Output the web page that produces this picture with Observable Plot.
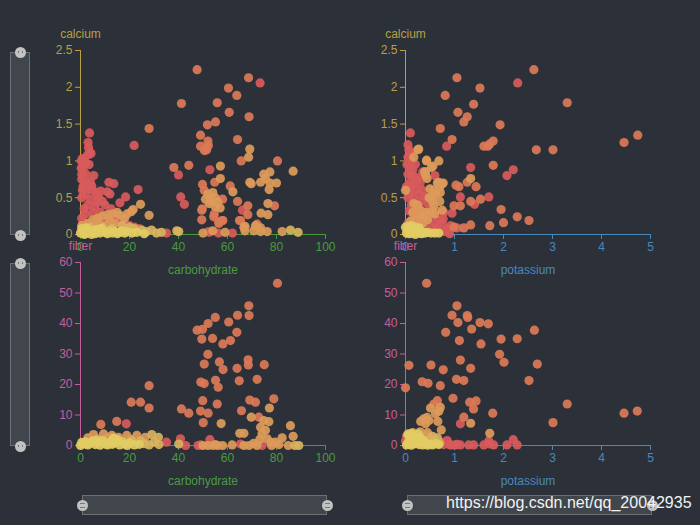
<!DOCTYPE html>
<html><head><meta charset="utf-8">
<script src="https://cdn.jsdelivr.net/npm/d3@7"></script>
<script src="https://cdn.jsdelivr.net/npm/@observablehq/plot@0.6"></script>
<style>
html,body{margin:0;padding:0;background:#2c3139;}
#chart{position:relative;width:700px;height:525px;background:#2c3139;overflow:hidden;font-family:"Liberation Sans",Arial,sans-serif;}
#chart svg{position:absolute;left:0;top:0;}
.slider{position:absolute;background:rgba(255,255,255,0.1);border:1px solid #6b6f76;box-sizing:border-box;}
.handle{position:absolute;width:11px;height:11px;border-radius:50%;background:#c2c2c2;box-sizing:border-box;}
.handle::after{content:"";position:absolute;left:3px;top:4px;width:5px;height:2px;border-left:1px solid #777;border-right:1px solid #777;box-sizing:border-box;}
.handle.h::after{left:3px;top:3px;width:5px;height:5px;border:none;border-top:1px solid #777;border-bottom:1px solid #777;}
#wm{position:absolute;left:446px;top:494px;color:#f2f2f2;font-size:16px;white-space:nowrap;}
</style></head>
<body>
<div id="chart">
  <div class="slider" style="left:10px;top:52px;width:20px;height:183px"></div>
  <div class="handle" style="left:14.5px;top:46.5px"></div>
  <div class="handle" style="left:14.5px;top:229.5px"></div>
  <div class="slider" style="left:10px;top:263px;width:20px;height:183px"></div>
  <div class="handle" style="left:14.5px;top:257.5px"></div>
  <div class="handle" style="left:14.5px;top:440.5px"></div>
  <div class="slider" style="left:82px;top:495px;width:245px;height:20px"></div>
  <div class="handle h" style="left:76.5px;top:499.5px"></div>
  <div class="handle h" style="left:321.5px;top:499.5px"></div>
  <div class="slider" style="left:407px;top:495px;width:245px;height:20px"></div>
  <div class="handle h" style="left:401.5px;top:499.5px"></div>
  <div class="handle h" style="left:646.5px;top:499.5px"></div>
</div>
<script>
// group levels: 0 red, 1 coral, 2 orange, 3 tan, 4 yellow
const levels = [0, 1, 2, 3, 4];
const levelColors = ["#d95a5b", "#dc7a58", "#dd9a5a", "#d9b35e", "#e2cc63"];

const carbTicks = [0, 20, 40, 60, 80, 100];
const potassiumTicks = [0, 1, 2, 3, 4, 5];
const calciumTicks = [0, 0.5, 1, 1.5, 2, 2.5];
const fiberTicks = [0, 10, 20, 30, 40, 50, 60];

// [carbohydrate, calcium, level]
const calciumByCarb = [
[47.6,2.24,1],[68.6,2.13,1],[73.3,2.06,0],[60.4,1.99,1],[63.8,1.89,1],[55.8,1.79,1],[41.2,1.78,1],[60.7,1.66,1],[68.8,1.60,1],[28.0,1.44,1],[55.1,1.53,1],[51.8,1.49,1],[49.0,1.35,1],[64.1,1.29,1],[52.0,1.27,1],[49.0,1.20,1],[50.6,1.14,1],[52.2,1.21,1],[51.5,1.15,1],[69.1,1.16,2],[68.6,1.05,2],[65.6,1.00,1],[80.4,1.00,1],[21.9,1.21,0],[38.1,0.91,1],[44.2,0.94,1],[57.1,0.93,2],[52.8,0.88,0],[86.8,0.86,2],[40.0,0.81,0],[57.1,0.76,2],[74.8,0.82,2],[77.3,0.85,2],[75.5,0.76,2],[54.8,0.71,1],[49.8,0.68,1],[69.1,0.71,2],[69.7,0.69,2],[73.5,0.71,2],[77.3,0.70,2],[80.0,0.70,2],[61.1,0.66,1],[77.0,0.61,2],[62.2,0.58,2],[40.9,0.51,0],[42.4,0.41,0],
[52,0.55,2],[54,0.57,2],[53,0.5,2],[55,0.5,2],[51,0.48,2],[53.5,0.45,2],[56,0.44,2],[52.5,0.42,2],[55,0.38,2],[57,0.36,2],[50.5,0.6,1],[58,0.48,1],
[64.1,0.45,1],[68.3,0.39,1],[76.5,0.42,2],[79.2,0.39,1],[49.7,0.35,1],[54.6,0.28,1],[56.4,0.17,1],[58.1,0.19,1],[49.5,0.20,1],[66.1,0.33,0],[68.3,0.27,1],[64.9,0.19,1],[73.7,0.29,2],[76.5,0.27,2],[72.1,0.14,1],[67.2,0.11,2],[67.1,0.05,2],[52.5,0.03,0],[56.3,0.02,0],[52.2,0.04,0],[70.7,0.05,2],[73.5,0.04,2],[76.2,0.04,2],[82.3,0.04,2],[85.7,0.06,3],[88.8,0.03,3],[40.1,0.04,3],[35.1,0.02,0],[39.3,0.05,3],
[65.3,0.19,1],[66.7,0.10,2],[71.4,0.12,2],[73.5,0.09,2],[49.5,0.33,1],[54.4,0.24,1],[57.8,0.19,1],[56.5,0.15,1],[62,0.02,0],[59,0.03,2],[54,0.05,2],[50,0.02,2],
[28,0.26,2],[24.5,0.41,2],[23.5,0.61,0],[18.4,0.51,0],[16.1,0.43,0],[20.7,0.31,2],[21.5,0.34,2],
[3.7,1.38,0],[3.1,1.25,0],[3.3,1.18,0],[3.7,1.12,0],[2.9,1.08,0],[4.3,1.1,0],[0.7,1.03,0],[1.2,0.91,0],[2.0,0.98,0],[3.5,0.95,0],[5.4,0.80,0],[0.5,0.75,0],[1.5,0.72,0],[2.5,0.7,0],[4,0.72,0],[1,0.65,0],[3,0.62,0],[5,0.6,0],[6.5,0.55,0],[2,0.55,0],[0.5,0.5,0],[4,0.48,0],[7,0.45,0],[8.2,0.59,0],[10.9,0.58,0],[12,0.55,0],[11.6,0.71,0],[13.6,0.69,0],[9,0.45,0],[3,0.4,0],[1.5,0.35,0],[6,0.38,0],[10,0.4,0],[12.5,0.35,0],[5,0.3,0],[8,0.3,0],[2,0.28,0],[0.5,0.22,0],[14,0.25,0],[11,0.22,0],[6.5,0.2,0],[15,0.18,0],[18,0.15,0],[20,0.12,0],[22,0.1,0],[24,0.08,0],[17,0.2,0],[13,0.12,0],[0.3,0.9,0],[0.8,0.6,0],[0.3,1.0,0],[0.5,0.82,0],[2.2,0.82,0],[4.6,0.66,0],[7.5,0.5,0],
[3,0.15,2],[5,0.2,2],[7,0.22,2],[9,0.25,2],[11,0.27,2],[13,0.28,2],[15,0.3,2],[16,0.26,2],[12,0.18,2],[8,0.14,2],[10,0.12,2],[14,0.15,2],[18,0.22,2],[6,0.1,2],[4,0.1,3],[19,0.28,2],[17,0.12,3],[20,0.1,3],[22,0.08,3],[25,0.06,3],[1,0.17,0],[0.5,0.12,2],[2,0.08,3],[13,0.08,3],[9,0.1,3],
[0,0.02,4],[1,0.05,4],[2,0.01,4],[3,0.06,4],[4,0.03,4],[5,0.05,4],[6,0.01,4],[7,0.04,4],[8,0.02,4],[9,0.06,4],[10,0.03,4],[11,0.01,4],[12,0.05,4],[13,0.02,4],[14,0.04,4],[15,0.01,4],[16,0.03,4],[17,0.05,4],[18,0.02,4],[19,0.04,4],[21,0.02,4],[23,0.03,4],[0.5,0.08,4],[2.5,0.09,4],[4.5,0.0,4],[6.5,0.07,4],[8.5,0.08,4],[1.5,0.0,4],[27,0.04,3],[29,0.06,3],[31,0.02,3],[33,0.03,3],[26,0.01,4]
];

// [potassium, calcium, level]
const calciumByPotassium = [
[2.62,2.24,1],[1.05,2.13,1],[2.29,2.06,0],[1.52,1.99,1],[0.81,1.89,1],[3.30,1.79,1],[1.39,1.77,1],[1.07,1.66,1],[1.26,1.60,1],[1.19,1.53,1],[1.93,1.49,1],[0.71,1.44,1],[4.74,1.35,1],[4.46,1.25,1],[0.95,1.29,1],[0.84,1.20,0],[1.60,1.20,1],[1.68,1.20,1],[1.79,1.27,1],[1.72,1.23,1],[2.67,1.15,1],[3.01,1.15,1],[0.10,1.38,0],[0.27,1.16,2],[0.17,1.05,2],[0.43,1.01,2],[0.68,1.00,2],[1.33,0.91,0],[1.79,0.94,1],[2.20,0.88,0],[2.07,0.80,0],[0.41,0.85,2],[0.41,0.80,2],[0.44,0.76,2],[0.60,0.80,0],[0.53,0.91,2],[0.65,0.70,2],[0.77,0.70,2],[0.70,0.65,2],[1.03,0.67,1],[1.09,0.65,1],[1.26,0.71,1],[1.33,0.76,2],[1.44,0.65,1],[1.12,0.51,0],[1.70,0.51,0],[1.53,0.48,1],[1.33,0.45,1],[1.41,0.41,0],[0.99,0.39,1],[1.12,0.39,1],[0.95,0.29,0],[1.95,0.34,1],[2.28,0.24,1],[2.52,0.19,1],[2.0,0.16,1],[1.72,0.12,1],[1.33,0.13,1],[1.19,0.09,1],[1.05,0.09,0],[0.80,0.04,0],[0.90,0.01,0],[0.92,0.12,0],[0.99,0.10,1],[0.77,0.21,0],[0.78,0.30,0],
[0.05,1.22,0],[0.07,1.15,0],[0.1,1.1,0],[0.05,1.05,0],[0.12,1.0,0],[0.03,0.95,0],[0.08,0.9,0],[0.15,0.88,0],[0.05,0.82,0],[0.12,0.8,0],[0.2,0.78,0],[0.25,0.75,0],[0.3,0.7,0],[0.08,0.7,0],[0.15,0.68,0],[0.02,0.65,0],[0.22,0.62,0],[0.35,0.6,0],[0.1,0.58,0],[0.28,0.55,0],[0.4,0.52,0],[0.05,0.5,0],[0.18,0.48,0],[0.32,0.45,0],[0.45,0.42,0],[0.12,0.4,0],[0.25,0.38,0],[0.5,0.35,0],[0.08,0.32,0],[0.2,0.3,0],[0.38,0.28,0],[0.55,0.25,0],[0.62,0.32,0],[0.15,0.22,0],[0.3,0.2,0],[0.45,0.18,0],[0.6,0.15,0],[0.7,0.2,0],[0.05,0.15,0],[0.25,0.12,0],[0.4,0.1,0],[0.55,0.08,0],[0.65,0.1,0],[0.75,0.15,0],[0.85,0.08,0],[0.1,0.55,0],[0.35,0.85,0],[0.2,0.95,0],
[0.25,1.15,2],[0.43,1.0,2],[0.56,0.93,2],[0.39,0.85,2],[0.68,0.71,2],[0.75,0.69,2],[0.71,0.57,2],[0.58,0.6,2],[0.54,0.51,2],[0.58,0.39,2],[0.75,0.33,2],[0.31,0.33,2],[0.37,0.26,2],[0.17,0.42,2],[0.0,0.6,2],
[0.3,0.25,2],[0.4,0.3,2],[0.5,0.3,2],[0.2,0.2,2],[0.45,0.2,2],[0.6,0.28,2],[0.35,0.15,2],[0.55,0.45,2],[0.62,0.55,2],[0.5,0.62,2],[0.7,0.45,2],[0.25,0.4,2],[0.15,0.3,2],[0.1,0.18,2],[0.55,0.52,2],[0.48,0.5,2],
[0.02,0.02,4],[0.05,0.06,4],[0.08,0.01,4],[0.1,0.04,4],[0.12,0.08,4],[0.15,0.02,4],[0.18,0.05,4],[0.2,0.0,4],[0.22,0.03,4],[0.25,0.06,4],[0.28,0.02,4],[0.3,0.04,4],[0.33,0.01,4],[0.36,0.03,4],[0.4,0.02,4],[0.45,0.03,4],[0.52,0.02,4],[0.6,0.02,4],[0.68,0.02,4],[0.0,0.1,4],[0.05,0.11,4],[0.12,0.12,4],[0.2,0.1,4],[0.28,0.09,4]
];

// [carbohydrate, fiber, level]
const fiberByCarb = [
[80.4,53.2,1],[68.7,45.8,1],[68.8,42.6,1],[64.1,42.7,1],[60.5,40.5,1],[55.0,42.0,1],[52.1,40.0,1],[47.6,37.8,1],[49.8,38.1,1],[63.8,37.1,1],[49.5,34.9,1],[53.9,35.1,1],[58.1,33.3,1],[61.2,34.4,1],[52.0,29.9,1],[68.4,28.1,1],[68.5,26.4,1],[50.5,26.7,1],[56.7,27.4,1],[75.0,26.5,1],[63.9,25.3,1],[58.2,24.9,1],[72.1,21.7,1],[64.8,21.2,1],[55.1,21.4,1],[56.2,19.1,1],[49.1,20.8,1],[50.5,20.3,1],[28.0,19.6,1],[20.7,14.2,1],[24.5,14.2,1],[28.0,12.3,1],[49.9,14.7,1],[69.1,14.9,1],[71.4,14.2,1],[78.9,15.3,1],[55.8,13.6,1],[77.1,12.3,2],[41.2,12.0,1],[44.2,10.6,1],[65.7,11.4,1],[49.0,11.3,1],[52.1,10.6,1],[69.7,9.3,2],[72.8,9.3,1],[50.1,7.5,1],[57.4,7.2,2],[85.7,6.5,2],[86.8,3.0,2],[8.3,6.9,1],[14.8,7.9,1],[18.7,7.1,0],
[74.8,8.2,2],[76.9,7.8,2],[73.5,6.0,2],[74.1,3.8,2],[76.2,2.2,2],[77.6,1.1,2],[79.6,1.1,2],[82.3,2.5,2],[66.7,4.0,2],[65.0,4.0,2],[75.5,5.0,2],[73.2,2.0,2],
[65.3,0.5,0],[74.1,0,0],[61.9,0.2,2],[66.7,0,2],[68.8,0,2],[70.7,0.7,2],[84.8,0,2],[87.5,0,3],[89.1,0,3],[72,0,2],[78,0,2],[81,0.3,2],
[35.1,1.1,0],[40.8,2.2,0],[40.1,0.5,3],[42.9,0,0],[48,0,0],[50,0,2],[52,0,2],[54,0,2],[56,0,2],[58,0,2],[49,0.2,0],[55,0.3,2],[52.8,1.9,0],
[5.3,3.6,2],[9.4,3.8,2],[12.8,3.3,2],[15.5,2.7,2],[18.9,3.3,2],[23,3.3,2],[26.4,2.7,2],[29.1,3.6,3],[31.8,2.7,3],[3,2.5,2],[7,2.2,2],[11,2.5,2],[20.5,2.0,2],[24.5,1.5,3],[14,1.8,2],
[0,0,4],[1,0.5,4],[2,1.2,4],[3,0.2,4],[4,0.8,4],[5,1.5,4],[6,0.3,4],[7,1.0,4],[8,0.1,4],[9,1.6,4],[10,0.6,4],[11,0.2,4],[12,1.1,4],[13,0.4,4],[14,0.9,4],[15,2.0,4],[16,0.2,4],[17,1.2,4],[18,0.5,4],[19,0,4],[20,0.8,4],[22,0.2,4],[24,0.4,4],[26,0.6,3],[28,0.2,3],[30,1.1,3],[32,0.3,3],[0.5,1.0,4],[2.5,0.5,4],[6.5,1.8,4],[13.5,2.4,4],[21,1.5,3]
];

// [potassium, fiber, level]
const fiberByPotassium = [
[0.43,53.2,1],[1.05,45.8,1],[0.95,42.7,1],[1.26,42.6,1],[1.27,42.0,1],[1.07,40.3,1],[1.52,40.3,1],[1.69,39.9,1],[0.82,37.1,1],[1.35,38.2,1],[2.63,37.8,1],[1.10,34.4,1],[1.95,34.9,1],[2.28,35.0,1],[1.54,33.3,1],[1.92,29.9,1],[2.01,27.3,1],[2.69,26.7,1],[1.12,28.0,1],[0.07,26.3,1],[0.52,26.4,1],[1.33,25.3,1],[0.77,24.8,1],[2.52,21.3,1],[1.04,21.7,1],[1.19,21.3,1],[0.34,20.9,1],[0.46,20.4,1],[0.71,19.6,1],[0.0,18.9,1],[0.97,15.5,1],[1.31,14.2,1],[1.44,14.6,1],[1.39,12.0,1],[3.30,13.6,1],[1.78,10.6,1],[4.46,10.6,1],[4.73,11.3,1],[3.01,7.5,1],[1.19,9.3,1],
[1.12,7.1,0],[1.33,7.3,2],[1.72,4.0,2],
[0.65,14.7,1],[0.58,13.6,1],[0.71,12.5,2],[0.68,11.2,2],[0.51,12.3,2],[0.61,10.4,2],[0.37,8.7,2],[0.48,8.2,2],[0.31,7.9,2],[0.41,7.1,2],[0.66,7.9,2],[0.73,5.1,2],[0.44,9.2,2],
[2.20,1.9,0],[2.07,0.2,0],[2.28,0.2,0],[0.92,0.2,0],[1.12,0.2,0],[1.29,0.2,0],[1.39,0.2,0],[1.6,0.2,0],[1.72,0.5,0],[1.8,0.2,0],[0.85,1.6,0],[0.9,0.3,0],[0.75,1.0,0],[0.78,0.3,0],[1.0,0.1,0],[1.05,0.4,0],[1.7,1.5,0],
[0.05,3.8,2],[0.15,4.2,2],[0.22,3.2,2],[0.3,4.5,2],[0.1,2.8,2],[0.4,3.5,2],[0.5,2.0,2],[0.6,1.5,2],[0.7,0.8,2],[0.45,4.2,2],[0.02,3,0],[0.0,1.5,0],[0.55,3.0,3],[0.65,2.5,3],
[0.02,0.2,4],[0.05,1,4],[0.08,0.5,4],[0.1,2,4],[0.12,0.1,4],[0.15,1.5,4],[0.18,3,4],[0.2,0.6,4],[0.22,2.2,4],[0.25,1.2,4],[0.28,0.3,4],[0.3,2.5,4],[0.32,1,4],[0.35,0.2,4],[0.38,1.6,4],[0.4,0.8,4],[0.45,0.1,4],[0.5,0.5,4],[0.55,0.2,4],[0.62,0.6,4],[0.68,0.3,4],[0.05,3.5,4],[0.12,4,4],[0.26,3.8,4]
];

const fmt = d => String(d);
const font = "'Liberation Sans', Arial, sans-serif";

function panel(points, o) {
  const data = points.map(([a, b, g]) => ({a, b, g})).sort((p, q) => p.g - q.g);
  return Plot.plot({
    width: 700, height: 525,
    marginLeft: o.ml, marginRight: o.mr, marginTop: o.mt, marginBottom: o.mb,
    style: {background: "transparent", fontFamily: font, fontSize: "12px", overflow: "visible"},
    x: {domain: o.xd, label: null},
    y: {domain: o.yd, label: null},
    color: {type: "ordinal", domain: levels, range: levelColors},
    marks: [
      Plot.ruleY([0], {stroke: o.xc, strokeWidth: 1}),
      Plot.ruleX([0], {stroke: o.yc, strokeWidth: 1}),
      Plot.axisX({ticks: o.xt, tickSize: 5, tickPadding: 3, tickFormat: fmt, stroke: o.xc, fill: o.xc, label: null, fontSize: 12}),
      Plot.axisY({ticks: o.yt, tickSize: 5, tickPadding: 3, tickFormat: fmt, stroke: o.yc, fill: o.yc, label: null, fontSize: 12}),
      Plot.text([o.xn], {text: d => d, frameAnchor: "bottom", lineAnchor: "middle", dy: 36, fill: o.xc, fontSize: 12}),
      Plot.text([o.yn], {text: d => d, frameAnchor: "top-left", lineAnchor: "middle", dy: -16, textAnchor: "middle", fill: o.yc, fontSize: 12}),
      Plot.dot(data, {x: "a", y: "b", fill: "g", r: 4.6, fillOpacity: 0.92})
    ]
  });
}

const carbColor = "#4a9a42", potColor = "#4a88bb", calColor = "#b9a043", fibColor = "#c55e9c";
const chartEl = document.getElementById("chart");
const rowTop = {mt: 50, mb: 291}, rowBottom = {mt: 262, mb: 80};
const colLeft = {ml: 80, mr: 375}, colRight = {ml: 405, mr: 50};

chartEl.appendChild(panel(calciumByCarb, {...rowTop, ...colLeft, xd: [0, 100], yd: [0, 2.5], xt: carbTicks, yt: calciumTicks, xc: carbColor, yc: calColor, xn: "carbohydrate", yn: "calcium"}));
chartEl.appendChild(panel(calciumByPotassium, {...rowTop, ...colRight, xd: [0, 5], yd: [0, 2.5], xt: potassiumTicks, yt: calciumTicks, xc: potColor, yc: calColor, xn: "potassium", yn: "calcium"}));
chartEl.appendChild(panel(fiberByCarb, {...rowBottom, ...colLeft, xd: [0, 100], yd: [0, 60], xt: carbTicks, yt: fiberTicks, xc: carbColor, yc: fibColor, xn: "carbohydrate", yn: "fiber"}));
chartEl.appendChild(panel(fiberByPotassium, {...rowBottom, ...colRight, xd: [0, 5], yd: [0, 60], xt: potassiumTicks, yt: fiberTicks, xc: potColor, yc: fibColor, xn: "potassium", yn: "fiber"}));

const wm = document.createElement("div");
wm.id = "wm";
wm.textContent = "https://blog.csdn.net/qq_20042935";
chartEl.appendChild(wm);
</script>
</body></html>
